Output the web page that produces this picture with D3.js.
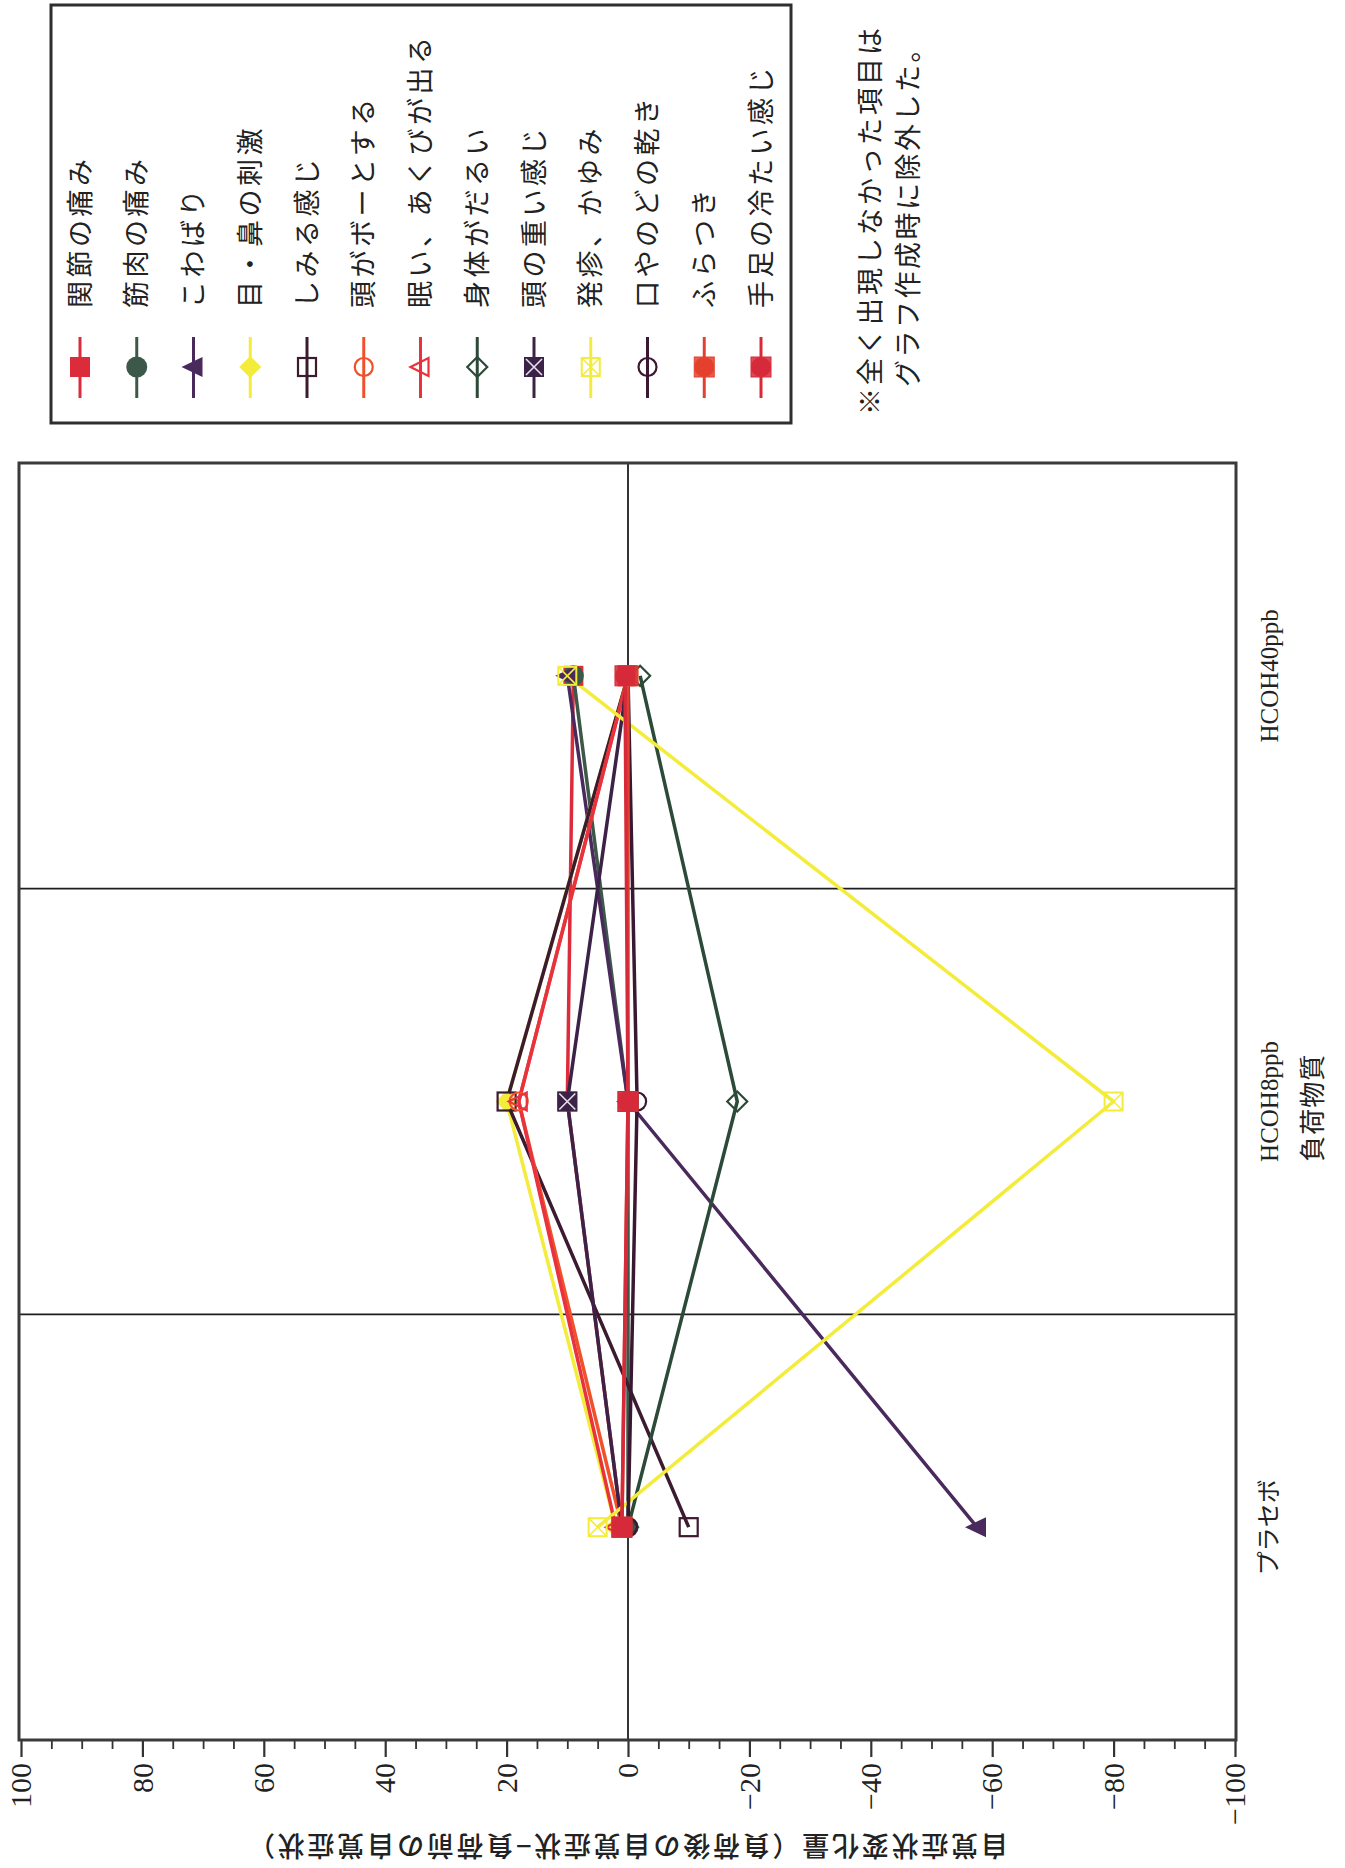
<!DOCTYPE html>
<html><head><meta charset="utf-8">
<script src="https://cdn.jsdelivr.net/npm/d3@7"></script>
<style>body{margin:0;background:#fff}</style>
</head><body>
<svg id="c" width="1345" height="1868" xmlns="http://www.w3.org/2000/svg"></svg>
<script>
// ---- data ----
const categories = ["プラセボ", "HCOH8ppb", "HCOH40ppb"];
const seriesNames = ["関節の痛み","筋肉の痛み","こわばり","目・鼻の刺激","しみる感じ","頭がボーとする","眠い、あくびが出る","身体がだるい","頭の重い感じ","発疹、かゆみ","口やのどの乾き","ふらつき","手足の冷たい感じ"];
const joint     = [1, 10, 9];
const muscle    = [0, 0, 9];
const stiffness = [-57.5, 0, 10];
const eyeNose   = [2, 20, 0];
const sting     = [-10, 20, 0];
const dazed     = [1, 18, 0];
const sleepy    = [2, 18, 0];
const tired     = [0, -18, -2];
const heavyHead = [1, 10, 0];
const rash      = [5, -80, 10];
const dryThroat = [0, -1.5, 0];
const dizzy     = [1, 0, 0];
const coldLimbs = [1, 0, 0.5];
const yTicks = [100, 80, 60, 40, 20, 0, -20, -40, -60, -80, -100];
const yTitle = "自覚症状変化量（負荷後の自覚症状−負荷前の自覚症状）";
const xTitle = "負荷物質";
const noteLines = ["※全く出現しなかった項目は", "グラフ作成時に除外した。"];

const seriesValues = [joint, muscle, stiffness, eyeNose, sting, dazed, sleepy, tired, heavyHead, rash, dryThroat, dizzy, coldLimbs];
const styles = [
  {c:"#dc2c3c", m:"sq"}, {c:"#3c5848", m:"ci"}, {c:"#4a2a5c", m:"tr"}, {c:"#f4ec3a", m:"di"},
  {c:"#3c1a30", m:"osq"}, {c:"#f0502a", m:"oci"}, {c:"#e8323e", m:"otr"}, {c:"#2c4a38", m:"odi"},
  {c:"#3c2246", m:"xsq"}, {c:"#f4ec3a", m:"oxsq"}, {c:"#3a1832", m:"oci"}, {c:"#e4402e", m:"csq"},
  {c:"#d62a3a", m:"csq"}
];

// ---- layout (drawn in un-rotated frame, then rotated -90deg) ----
const svg = d3.select("#c");
svg.append("rect").attr("width",1345).attr("height",1868).attr("fill","#fff");
const g = svg.append("g").attr("transform","translate(0,1868) rotate(-90)");
const P = {left:128, right:1405, top:19, bottom:1236};
const x = d3.scaleBand().domain(categories).range([P.left, P.right]);
const y = d3.scaleLinear().domain([-100, 100]).range([1235, 21]);
const cx = c => x(c) + x.bandwidth()/2;
const serif = "'Liberation Serif','Times New Roman',serif";
const cjk = "'Noto Sans CJK JP','Noto Sans',sans-serif";

// category separators
categories.slice(1).forEach(c => {
  g.append("line").attr("x1", x(c)).attr("x2", x(c)).attr("y1", P.top).attr("y2", P.bottom)
    .attr("stroke","#1e1e1e").attr("stroke-width",1.6);
});
// zero line
g.append("line").attr("x1",P.left).attr("x2",P.right).attr("y1",y(0)).attr("y2",y(0))
  .attr("stroke","#1e1e1e").attr("stroke-width",1.8);

// minor ticks
const minor = d3.range(-100, 101, 5).filter(v => v % 20 !== 0);
g.append("g").attr("transform",`translate(${P.left},0)`)
  .call(d3.axisLeft(y).tickValues(minor).tickSize(9).tickFormat(""))
  .call(s => s.select(".domain").remove())
  .selectAll("line").attr("stroke","#333").attr("stroke-width",1.8);
// major ticks + labels
const ya = g.append("g").attr("transform",`translate(${P.left},0)`)
  .call(d3.axisLeft(y).tickValues(yTicks).tickSize(17).tickPadding(6))
  .call(s => s.select(".domain").remove());
ya.selectAll("line").attr("stroke","#333").attr("stroke-width",2.2);
ya.selectAll("text").attr("font-family",serif).attr("font-size",30).attr("fill","#222");

// frame
g.append("rect").attr("x",P.left).attr("y",P.top).attr("width",P.right-P.left).attr("height",P.bottom-P.top)
  .attr("fill","none").attr("stroke","#3a3a3a").attr("stroke-width",3);

// y title
g.append("text").attr("transform",`translate(23,${y(0)}) rotate(-90)`).attr("text-anchor","middle")
  .attr("dy","0.35em").attr("font-family",cjk).attr("font-size",27).attr("font-weight",500).attr("fill","#222")
  .attr("textLength",760).attr("lengthAdjust","spacing").text(yTitle);

// x labels
categories.forEach(c => {
  g.append("text").attr("x",cx(c)).attr("y",1269).attr("dy","0.35em").attr("text-anchor","middle")
    .attr("font-family", c === "プラセボ" ? cjk : serif).attr("font-size",c === "プラセボ" ? 24 : 25)
    .attr("fill","#222").text(c);
});
g.append("text").attr("x",(cx(categories[1])+ 760)/2 - 3).attr("y",1313).attr("dy","0.35em").attr("text-anchor","middle")
  .attr("font-family",cjk).attr("font-size",26).attr("letter-spacing",1).attr("fill","#222").text(xTitle);

// ---- markers ----
function marker(sel, m, c, px, py) {
  const h = 10;
  const grp = sel.append("g").attr("transform",`translate(${px},${py})`);
  if (m === "sq") grp.append("rect").attr("x",-h).attr("y",-h).attr("width",2*h).attr("height",2*h).attr("fill",c);
  else if (m === "ci") grp.append("circle").attr("r",h+0.5).attr("fill",c);
  else if (m === "tr") grp.append("path").attr("d",`M0,${-h-2}L${h},${h-1}L${-h},${h-1}Z`).attr("fill",c);
  else if (m === "di") grp.append("path").attr("d",`M0,${-h-1}L${h+1},0L0,${h+1}L${-h-1},0Z`).attr("fill",c);
  else if (m === "osq") grp.append("rect").attr("x",-h+1).attr("y",-h+1).attr("width",2*h-2).attr("height",2*h-2).attr("fill","none").attr("stroke",c).attr("stroke-width",2.2);
  else if (m === "oci") grp.append("circle").attr("r",h-1).attr("fill","none").attr("stroke",c).attr("stroke-width",2.2);
  else if (m === "otr") grp.append("path").attr("d",`M0,${-h}L${h-1},${h-2}L${-h+1},${h-2}Z`).attr("fill","none").attr("stroke",c).attr("stroke-width",2.2);
  else if (m === "odi") grp.append("path").attr("d",`M0,${-h}L${h},0L0,${h}L${-h},0Z`).attr("fill","none").attr("stroke",c).attr("stroke-width",2.2);
  else if (m === "xsq") {
    grp.append("rect").attr("x",-h).attr("y",-h).attr("width",2*h).attr("height",2*h).attr("fill",c);
    grp.append("path").attr("d",`M${-h+2},${-h+2}L${h-2},${h-2}M${h-2},${-h+2}L${-h+2},${h-2}`).attr("stroke","#e8e0ee").attr("stroke-width",1.6);
  } else if (m === "oxsq") {
    grp.append("rect").attr("x",-h+1).attr("y",-h+1).attr("width",2*h-2).attr("height",2*h-2).attr("fill","none").attr("stroke",c).attr("stroke-width",2);
    grp.append("path").attr("d",`M${-h+1},${-h+1}L${h-1},${h-1}M${h-1},${-h+1}L${-h+1},${h-1}`).attr("stroke",c).attr("stroke-width",1.6);
  } else if (m === "csq") {
    grp.append("rect").attr("x",-h).attr("y",-h).attr("width",2*h).attr("height",2*h).attr("fill",c).attr("fill-opacity",0.85).attr("stroke",c).attr("stroke-width",1);
    grp.append("circle").attr("r",h).attr("fill",c);
  }
}

// ---- series lines ----
const line = d3.line().x((d,i) => cx(categories[i])).y(d => y(d));
seriesValues.forEach((vals, k) => {
  g.append("path").attr("d", line(vals)).attr("fill","none").attr("stroke",styles[k].c)
    .attr("stroke-width",3.5).attr("stroke-linejoin","round");
});
seriesValues.forEach((vals, k) => {
  vals.forEach((v, i) => marker(g, styles[k].m, styles[k].c, cx(categories[i]), y(v)));
});

// ---- legend ----
const L = {u:1445, v:51, w:418, h:740};
g.append("rect").attr("x",L.u).attr("y",L.v).attr("width",L.w).attr("height",L.h)
  .attr("fill","#fff").attr("stroke","#2e2e2e").attr("stroke-width",3);
const lv = d3.scalePoint().domain(seriesNames).range([80, 761]);
seriesNames.forEach((name, k) => {
  const vv = lv(name);
  g.append("line").attr("x1",1470).attr("x2",1531).attr("y1",vv).attr("y2",vv)
    .attr("stroke",styles[k].c).attr("stroke-width",3);
  marker(g, styles[k].m, styles[k].c, 1501, vv);
  g.append("text").attr("x",1560).attr("y",vv).attr("dy","0.36em").attr("font-family",cjk)
    .attr("font-size",27).attr("letter-spacing",3.5).attr("fill","#222").text(name);
});

// ---- note ----
g.append("text").attr("x",1453).attr("y",870).attr("dy","0.36em").attr("font-family",cjk)
  .attr("font-size",27).attr("letter-spacing",3).attr("fill","#222").text(noteLines[0]);
g.append("text").attr("x",1481).attr("y",908).attr("dy","0.36em").attr("font-family",cjk)
  .attr("font-size",27).attr("letter-spacing",2.5).attr("fill","#222").text(noteLines[1]);
</script>
</body></html>
